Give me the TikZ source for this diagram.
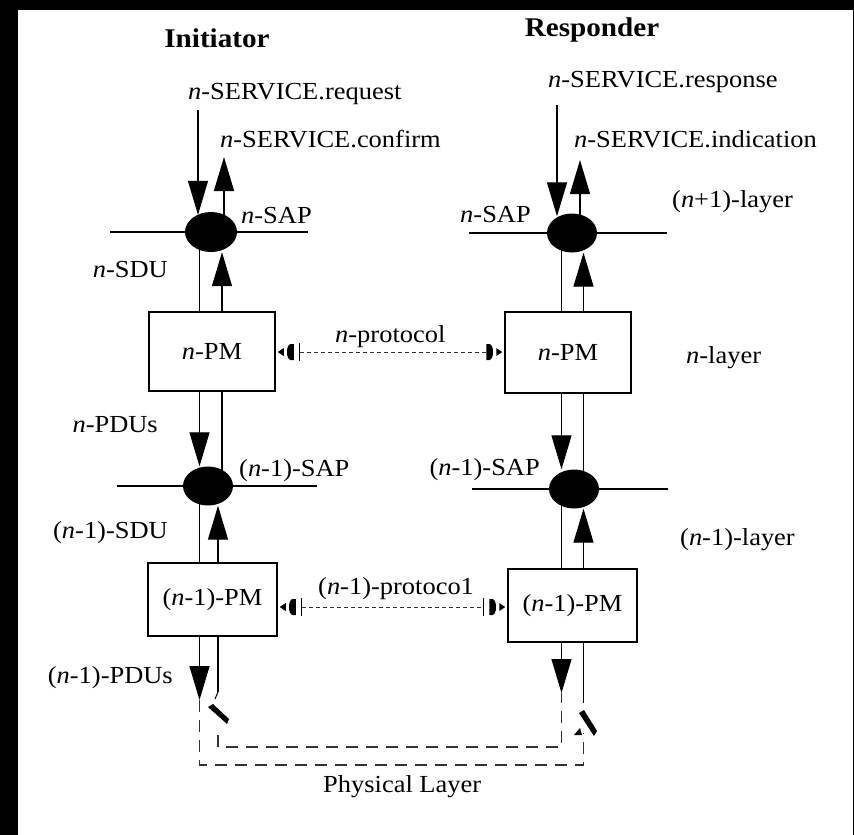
\documentclass[tikz,border=0pt]{standalone}
\usepackage{fontspec}
\setmainfont[FakeStretch=1.08]{Liberation Serif}
\usetikzlibrary{shapes.geometric,arrows.meta}
\newcommand{\itn}{\textit{n}}
\begin{document}
\begin{tikzpicture}[x=1pt,y=-1pt,
  every node/.style={font=\fontsize{24.5}{28}\selectfont},
  lbl/.style={inner sep=0pt},
  ttl/.style={inner sep=0pt,font=\fontsize{27}{32}\selectfont\bfseries},
  sap/.style={ellipse,fill=black,draw=none,minimum width=50pt,minimum height=39pt,inner sep=0pt},
  pmbox/.style={draw=black,line width=1.5pt,inner sep=0pt},
  wire/.style={draw=black,line width=1.3pt},
  arr/.style={wire,-{Triangle[length=34pt,width=20pt]}},
  proto/.style={draw=black!80,line width=0.9pt,dash pattern=on 4pt off 3pt},
  phys/.style={draw=black!80,line width=1.3pt,dash pattern=on 12pt off 8pt},
  pendtick/.pic={
    \fill (2,0) -- (8,-4) -- (8,4) -- cycle;
    \fill (18,-8) -- (15,-8) .. controls (10,-8) and (10,8) .. (15,8) -- (18,8) -- cycle;
    \draw[line width=0.9pt] (24,-9) -- (24,9);
  },
  pendbare/.pic={
    \fill (2,0) -- (8,-4) -- (8,4) -- cycle;
    \fill (18,-8) -- (15,-8) .. controls (10,-8) and (10,8) .. (15,8) -- (18,8) -- cycle;
  }
]
% frame and canvas
\useasboundingbox (0,0) rectangle (854,835);
\fill[black] (0,0) rectangle (854,835);
\fill[white] (18,10) rectangle (853,835);

% titles
\node[ttl] (tInit) at (217,38) {Initiator};
\node[ttl] (tResp) at (592,30) {Responder};

% service access points
\node[sap,minimum width=52pt,minimum height=40pt] (sapL) at (211,232) {};
\node[sap] (sapR) at (572,233) {};
\node[sap] (sap1L) at (208,486) {};
\node[sap] (sap1R) at (574,489) {};

% protocol machines
\node[pmbox,minimum width=126pt,minimum height=79pt] (pmL) at (212,351.5) {\itn-PM};
\node[pmbox,minimum width=126pt,minimum height=81pt] (pmR) at (568,352.5) {\itn-PM};
\node[pmbox,minimum width=129pt,minimum height=73pt] (pm1L) at (212.5,599.5) {(\itn-1)-PM};
\node[pmbox,minimum width=129pt,minimum height=73pt] (pm1R) at (572.5,605.5) {(\itn-1)-PM};

% layer boundaries through the SAPs
\coordinate (h1a) at (110,232); \coordinate (h1b) at (308,232);
\coordinate (h2a) at (469,233); \coordinate (h2b) at (667,233);
\coordinate (h3a) at (117,486); \coordinate (h3b) at (317,486);
\coordinate (h4a) at (472,489); \coordinate (h4b) at (668,489);
\draw[wire] (h1a) -- (h1b);
\draw[wire] (h2a) -- (h2b);
\draw[wire] (h3a) -- (h3b);
\draw[wire] (h4a) -- (h4b);

% lanes
\coordinate (la) at (199.5,0); \coordinate (lb) at (222,0); \coordinate (lc) at (218,0);
\coordinate (ra) at (561.5,0); \coordinate (rb) at (583.5,0);
\coordinate (rqL) at (198,110); \coordinate (cfL) at (224,157);
\coordinate (rqR) at (557,105); \coordinate (cfR) at (580,160);
\coordinate (dnL) at (199.5,700); \coordinate (upL) at (218,692);
\coordinate (dnR) at (561.5,693); \coordinate (upR) at (583.5,703);

% initiator side
\draw[arr,shorten >=-3pt] (rqL) -- (rqL |- sapL.north);
\draw[arr] (cfL |- sapL.center) -- (cfL);
\draw[wire] (sapL.center -| la) -- (pmL.north -| la);
\draw[arr] (pmL.north -| lb) -- (sapL.south -| lb);
\draw[arr] (pmL.south -| la) -- (sap1L.north -| la);
\draw[wire] (pmL.south -| lb) -- (sap1L.center -| lb);
\draw[wire] (sap1L.center -| la) -- (pm1L.north -| la);
\draw[arr] (pm1L.north -| lc) -- (sap1L.south -| lc);
\draw[arr] (pm1L.south -| la) -- (dnL);
\draw[wire] (pm1L.south -| lc) -- (upL);

% responder side
\draw[arr,shorten >=-3pt] (rqR) -- (rqR |- sapR.north);
\draw[arr] (cfR |- sapR.center) -- (cfR);
\draw[wire] (sapR.center -| ra) -- (pmR.north -| ra);
\draw[arr] (pmR.north -| rb) -- (sapR.south -| rb);
\draw[arr] (pmR.south -| ra) -- (sap1R.north -| ra);
\draw[wire] (pmR.south -| rb) -- (sap1R.center -| rb);
\draw[wire] (sap1R.center -| ra) -- (pm1R.north -| ra);
\draw[arr] (pm1R.north -| rb) -- (sap1R.south -| rb);
\draw[arr] (pm1R.south -| ra) -- (dnR);
\draw[wire] (pm1R.south -| rb) -- (upR);

% peer protocols
\coordinate (p0) at (0,352); \coordinate (p1) at (0,607);
\draw[proto] ([xshift=24pt]pmL.east |- p0) -- ([xshift=-18pt]pmR.west |- p0);
\pic at (pmL.east |- p0) {pendtick};
\pic[xscale=-1] at (pmR.west |- p0) {pendbare};
\draw[proto] ([xshift=24pt]pm1L.east |- p1) -- ([xshift=-24pt]pm1R.west |- p1);
\pic at (pm1L.east |- p1) {pendtick};
\pic[xscale=-1] at (pm1R.west |- p1) {pendtick};

% physical medium
\coordinate (ob) at (0,765); \coordinate (ib) at (0,747);
\coordinate (oe) at (583.5,733); \coordinate (ie) at (218,735);
\draw[phys] (dnL) -- (dnL |- ob) -- (oe |- ob) -- (oe);
\draw[phys] (ie) -- (ie |- ib) -- (dnR |- ib) -- (dnR);
\fill (208,707) -- (213,704) -- (229,719) -- (227,724) -- cycle;
\draw[line width=1pt] (218,692) -- (215,699);
\fill (579,713) -- (584,710) -- (597,731) -- (594,736) -- cycle;
\fill (574,735) -- (580,728) -- (582,735) -- cycle;

% labels
\node[lbl,anchor=base west] (lReq) at (188,99) {\itn-SERVICE.request};
\node[lbl,anchor=base west] (lCnf) at (220,147) {\itn-SERVICE.confirm};
\node[lbl,anchor=base west] (lSapL) at (241,223) {\itn-SAP};
\node[lbl,anchor=base east] (lSdu) at (168,277) {\itn-SDU};
\node[lbl,anchor=base east] (lPdu) at (158,432) {\itn-PDUs};
\node[lbl,anchor=base west] (lSap1L) at (239,476) {(\itn-1)-SAP};
\node[lbl,anchor=base east] (lSdu1) at (168,538) {(\itn-1)-SDU};
\node[lbl,anchor=base east] (lPdu1) at (173,683) {(\itn-1)-PDUs};
\node[lbl,anchor=base west] (lResp) at (548,87) {\itn-SERVICE.response};
\node[lbl,anchor=base west] (lInd) at (574,147) {\itn-SERVICE.indication};
\node[lbl,anchor=base west] (lLayA) at (672,207) {(\itn+1)-layer};
\node[lbl,anchor=base east] (lSapR) at (531,222) {\itn-SAP};
\node[lbl,anchor=base west] (lLayN) at (686,363) {\itn-layer};
\node[lbl,anchor=base east] (lSap1R) at (540,475) {(\itn-1)-SAP};
\node[lbl,anchor=base west] (lLayB) at (680,545) {(\itn-1)-layer};
\node[lbl,anchor=base west] (lProt) at (335,342) {\itn-protocol};
\node[lbl,anchor=base west] (lProt1) at (318,594) {(\itn-1)-protoco1};
\node[lbl,anchor=base west] (lPhys) at (323,792) {Physical Layer};
\end{tikzpicture}
\end{document}
